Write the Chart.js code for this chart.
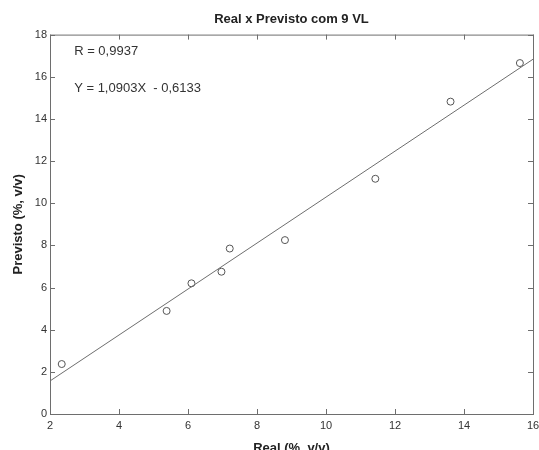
<!DOCTYPE html>
<html lang="pt">
<head>
  <meta charset="UTF-8" />
  <title>Real x Previsto com 9 VL</title>
  <style>
    html, body { margin: 0; padding: 0; background: #fff; overflow: hidden; }
    #box { width: 539px; height: 450px; }
  </style>
</head>
<body>
  <div id="box"><canvas id="chart" width="539" height="450"></canvas></div>

  <script src="https://cdn.jsdelivr.net/npm/chart.js"></script>
  <script>
    // valores
    const realX = [2.34, 5.38, 6.10, 6.97, 7.21, 8.81, 11.43, 13.61, 15.62];
    const previstoY = [2.37, 4.89, 6.20, 6.75, 7.85, 8.25, 11.16, 14.82, 16.65];
    const fitX = [2, 16];
    const fitY = [1.567, 16.832];
    const xTicks = [2, 4, 6, 8, 10, 12, 14, 16];
    const yTicks = [0, 2, 4, 6, 8, 10, 12, 14, 16, 18];
    const notes = [
      { text: 'R = 0,9937', x: 2.70, y: 17.18 },
      { text: 'Y = 1,0903X  - 0,6133', x: 2.70, y: 15.44 }
    ];

    const gray = '#6e6e6e';
    const font = 'Liberation Sans, Arial, sans-serif';

    // caixa + marcas para dentro + textos
    const boxPlugin = {
      id: 'boxPlugin',
      afterDatasetsDraw(chart) {
        const { ctx, chartArea: a, scales } = chart;
        ctx.save();
        ctx.strokeStyle = gray;
        ctx.lineWidth = 1;
        ctx.strokeRect(a.left + 0.5, a.top + 0.5, a.right - a.left, a.bottom - a.top);
        const len = 5;
        ctx.beginPath();
        xTicks.forEach(v => {
          const px = Math.round(scales.x.getPixelForValue(v)) + 0.5;
          ctx.moveTo(px, a.bottom); ctx.lineTo(px, a.bottom - len);
          ctx.moveTo(px, a.top); ctx.lineTo(px, a.top + len);
        });
        yTicks.forEach(v => {
          const py = Math.round(scales.y.getPixelForValue(v)) + 0.5;
          ctx.moveTo(a.left, py); ctx.lineTo(a.left + len, py);
          ctx.moveTo(a.right, py); ctx.lineTo(a.right - len, py);
        });
        ctx.stroke();

        ctx.fillStyle = '#333';
        ctx.font = '13px ' + font;
        ctx.textBaseline = 'middle';
        notes.forEach(n => {
          ctx.fillText(n.text, scales.x.getPixelForValue(n.x), scales.y.getPixelForValue(n.y));
        });
        ctx.restore();
      }
    };

    new Chart(document.getElementById('chart'), {
      type: 'scatter',
      data: {
        datasets: [
          {
            label: 'Ajuste',
            type: 'line',
            data: fitX.map((x, i) => ({ x, y: fitY[i] })),
            borderColor: gray,
            borderWidth: 1,
            pointRadius: 0,
            fill: false
          },
          {
            label: 'Dados',
            data: realX.map((x, i) => ({ x, y: previstoY[i] })),
            pointRadius: 3.5,
            pointBorderWidth: 1,
            borderColor: '#555',
            backgroundColor: '#fff'
          }
        ]
      },
      options: {
        responsive: false,
        animation: false,
        layout: { padding: { top: 0, right: 6, bottom: 0, left: 0 } },
        plugins: {
          legend: { display: false },
          tooltip: { enabled: false },
          title: {
            display: true,
            fullSize: false,
            text: 'Real x Previsto com 9 VL',
            color: '#222',
            font: { family: font, size: 13, weight: 'bold' },
            padding: { top: 12, bottom: 7 }
          }
        },
        scales: {
          x: {
            type: 'linear',
            min: 2, max: 16,
            afterBuildTicks: s => { s.ticks = xTicks.map(v => ({ value: v })); },
            afterFit: s => { s.height = 36; s.paddingLeft = 0; s.paddingRight = 0; },
            grid: { display: false, drawTicks: false },
            border: { display: false },
            ticks: { color: '#333', padding: 5, font: { family: font, size: 11 }, maxRotation: 0 },
            title: {
              display: true,
              text: 'Real (%, v/v)',
              color: '#222',
              font: { family: font, size: 13, weight: 'bold' },
              padding: { top: 0, bottom: -6 }
            }
          },
          y: {
            type: 'linear',
            min: 0, max: 18,
            afterBuildTicks: s => { s.ticks = yTicks.map(v => ({ value: v })); },
            afterFit: s => { s.width = 50; },
            grid: { display: false, drawTicks: false },
            border: { display: false },
            ticks: { color: '#333', padding: 3, font: { family: font, size: 11 } },
            title: {
              display: true,
              text: 'Previsto (%, v/v)',
              color: '#222',
              font: { family: font, size: 13, weight: 'bold' },
              padding: { top: 11, bottom: 0 }
            }
          }
        }
      },
      plugins: [boxPlugin]
    });
  </script>
</body>
</html>
